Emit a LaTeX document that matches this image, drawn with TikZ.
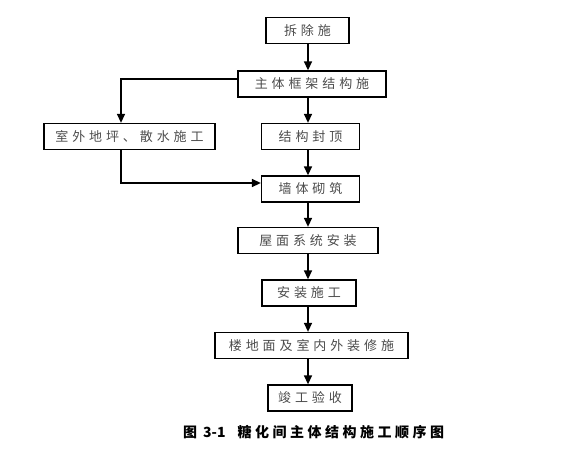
\documentclass[tikz,border=0pt]{standalone}
\usepackage{fontspec}
\usepackage{tikz}
\usepackage{xcolor}
\usetikzlibrary{arrows.meta,positioning,calc}
\newfontfamily\cjk[LetterSpace=30]{Noto Sans CJK SC}
\newfontfamily\cjkcap[LetterSpace=25]{Noto Sans CJK SC}
\newfontfamily\cjknum{Noto Sans CJK SC}

\tikzset{
  stepbox/.style={draw, line width=1.3pt, minimum height=26pt, inner sep=0pt,
                  text=black!70, font=\cjk\fontsize{13pt}{15pt}\selectfont},
  arr/.style={line width=1.4pt, -{Triangle[length=9pt, width=8pt]}},
  link/.style={line width=1.4pt}
}

\begin{document}
\begin{tikzpicture}[x=1pt, y=-1pt]
        \useasboundingbox (0,0) rectangle (576,461);

        % ============================================================
        % Main column
        % ============================================================
        \node[stepbox, minimum width=83pt]  (cc) at (307.5,30.5) {拆除施};
        \node[stepbox, minimum width=148pt] (zt) at (312,84)     {主体框架结构施};
        \node[stepbox, minimum width=98pt]  (fd) at (310.5,136.5){结构封顶};
        \node[stepbox, minimum width=98pt]  (qt) at (310.5,189)  {墙体砌筑};
        \node[stepbox, minimum width=140pt] (wm) at (308,240.5)  {屋面系统安装};
        \node[stepbox, minimum width=94pt]  (az) at (309,293)    {安装施工};
        \node[stepbox, minimum width=193pt] (ld) at (311.5,345.5){楼地面及室内外装修施};
        \node[stepbox, minimum width=84pt]  (jg) at (310,398)    {竣工验收};

        % ============================================================
        % Side branch - Left
        % ============================================================
        \node[stepbox, minimum width=171pt] (sw) at (129.5,136.5){室外地坪、散水施工};

        % spine and turning points
        \coordinate (spine) at (308,0);
        \coordinate (lt) at (121,79);
        \coordinate (lb) at (121,183);

        % ============================================================
        % Connectors
        % ============================================================
        \draw[arr] (cc.south -| spine) -- (zt.north -| spine);
        \draw[arr] (zt.south -| spine) -- (fd.north -| spine);
        \draw[arr] (fd.south -| spine) -- (qt.north -| spine);
        \draw[arr] (qt.south -| spine) -- (wm.north -| spine);
        \draw[arr] (wm.south -| spine) -- (az.north -| spine);
        \draw[arr] (az.south -| spine) -- (ld.north -| spine);
        \draw[arr] (ld.south -| spine) -- (jg.north -| spine);

        \draw[arr] (zt.west |- lt) -- (lt) -- (sw.north -| lt);
        \draw[arr] (sw.south -| lb) -- (lb) -- (qt.west |- lb);

        % caption
        \node[font=\cjkcap\bfseries\fontsize{14pt}{16pt}\selectfont, anchor=west, inner sep=0pt] (cap) at (183,432)
             {图\hspace{6pt}{\cjknum 3-1}\hspace{12pt}糖化间主体结构施工顺序图};
\end{tikzpicture}
\end{document}
